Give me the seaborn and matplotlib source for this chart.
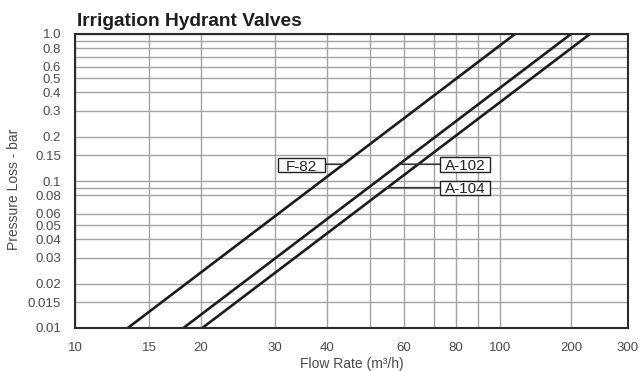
import numpy as np
import pandas as pd
import matplotlib
matplotlib.use("Agg")
import matplotlib.pyplot as plt
import seaborn as sns
from matplotlib.patches import Rectangle
from matplotlib.ticker import FixedLocator, FixedFormatter, NullFormatter

# Valve head-loss curves: flow (m3/h) at the bottom and top of the pressure range
valves = ["F-82", "A-102", "A-104"]
flow_at_low = [13.35, 18.14, 20.14]     # flow at 0.01 bar
flow_at_high = [115.8, 200.0, 228.9]    # flow at 1.0 bar
pressure_low = 0.01
pressure_high = 1.0

# Pressure where each callout leader meets its curve
callout_pressure = [0.13, 0.13, 0.09]

x_major = [10, 15, 20, 30, 40, 60, 80, 100, 200, 300]
x_labels = ["10", "15", "20", "30", "40", "60", "80", "100", "200", "300"]
x_minor = [50, 70, 90]
y_major = [0.01, 0.015, 0.02, 0.03, 0.04, 0.05, 0.06, 0.08, 0.1,
           0.15, 0.2, 0.3, 0.4, 0.5, 0.6, 0.8, 1.0]
y_labels = ["0.01", "0.015", "0.02", "0.03", "0.04", "0.05", "0.06", "0.08", "0.1",
            "0.15", "0.2", "0.3", "0.4", "0.5", "0.6", "0.8", "1.0"]
y_minor = [0.09, 0.7, 0.9]

# Graduation of the hand-drawn flow axis (log-like, compressed above 100)
grad_flow = [10, 15, 20, 30, 40, 50, 60, 70, 80, 90, 100, 200, 300]
grad_pos = [0, 74, 126, 200, 252, 295, 329, 359, 381, 403, 425, 496, 553]
grad_log = np.log10(grad_flow)


def flow_fwd(x):
    x = np.clip(np.asarray(x, dtype=float), 1e-9, None)
    return np.interp(np.log10(x), grad_log, grad_pos)


def flow_inv(u):
    return 10 ** np.interp(np.asarray(u, dtype=float), grad_pos, grad_log)


rows = []
for name, q0, q1 in zip(valves, flow_at_low, flow_at_high):
    rows.append({"valve": name, "flow": q0, "pressure": pressure_low})
    rows.append({"valve": name, "flow": q1, "pressure": pressure_high})
df = pd.DataFrame(rows)

sns.set_theme(style="white")
plt.rcParams["font.family"] = ["Liberation Sans", "DejaVu Sans"]

fig = plt.figure(figsize=(6.43, 3.71), dpi=100)
ax = fig.add_axes([75 / 643, 43 / 371, 553 / 643, 294 / 371])

grid_c = "#a3a3a3"
ink = "#1c1c1c"
text_c = "#4a4a4a"

sns.lineplot(data=df, x="flow", y="pressure", hue="valve", palette=[ink] * 3,
             estimator=None, sort=False, legend=False, linewidth=1.9, ax=ax,
             zorder=3)

ax.set_xscale("function", functions=(flow_fwd, flow_inv))
ax.set_yscale("log")
ax.set_xlim(10, 300)
ax.set_ylim(0.01, 1.0)

ax.xaxis.set_major_locator(FixedLocator(x_major))
ax.xaxis.set_major_formatter(FixedFormatter(x_labels))
ax.xaxis.set_minor_locator(FixedLocator(x_minor))
ax.xaxis.set_minor_formatter(NullFormatter())
ax.yaxis.set_major_locator(FixedLocator(y_major))
ax.yaxis.set_major_formatter(FixedFormatter(y_labels))
ax.yaxis.set_minor_locator(FixedLocator(y_minor))
ax.yaxis.set_minor_formatter(NullFormatter())

ax.tick_params(axis="both", which="major", length=9, width=1.0, color=grid_c,
               labelsize=9.5, labelcolor=text_c, pad=1)
ax.tick_params(axis="both", which="minor", length=0)
ax.tick_params(axis="x", which="major", length=8.5, pad=1.5)

ax.grid(True, which="both", color=grid_c, linewidth=1.0)
ax.set_axisbelow(True)
for sp in ax.spines.values():
    sp.set_color("#2b2b2b")
    sp.set_linewidth(1.5)
    sp.set_zorder(4)

ax.set_xlabel("")
ax.set_ylabel("")
fig.text(351.5 / 643, 1 - 368 / 371, "Flow Rate (m³/h)", ha="center",
         va="baseline", fontsize=10, color=text_c)
fig.text(14 / 643, 1 - 189 / 371, "Pressure Loss - bar", rotation=90,
         ha="center", va="center", fontsize=10, color=text_c)
fig.text(77 / 643, 1 - 26 / 371, "Irrigation Hydrant Valves", ha="left",
         va="baseline", fontsize=13.8, fontweight="bold", color="#1e1e1e")

# Callout boxes (axes fraction: left, bottom, width, height) and the edge the leader leaves from
boxes = [
    (0.3671, 0.5306, 0.0850, 0.0476, "right"),
    (0.6600, 0.5306, 0.0905, 0.0510, "left"),
    (0.6600, 0.4524, 0.0905, 0.0486, "left"),
]

span = np.log10(pressure_high) - np.log10(pressure_low)
for name, q0, q1, p, (bx, by, bw, bh, side) in zip(
        valves, flow_at_low, flow_at_high, callout_pressure, boxes):
    t = (np.log10(p) - np.log10(pressure_low)) / span
    u = flow_fwd(q0) + t * (flow_fwd(q1) - flow_fwd(q0))
    q = float(flow_inv(u))
    edge = bx + bw if side == "right" else bx
    ax.annotate("", xy=(q, p), xycoords="data", xytext=(edge, p),
                textcoords=("axes fraction", "data"),
                arrowprops=dict(arrowstyle="-", color="#333333", lw=1.2,
                                shrinkA=0, shrinkB=0), zorder=5)
    ax.add_patch(Rectangle((bx, by), bw, bh, transform=ax.transAxes,
                           facecolor="white", edgecolor="#222222", lw=1.0,
                           zorder=6))
    ax.text(bx + bw / 2, by + bh / 2, name, transform=ax.transAxes,
            ha="center", va="center_baseline", fontsize=11, color="#222222",
            zorder=7)

fig.savefig("out.png", dpi=100)
